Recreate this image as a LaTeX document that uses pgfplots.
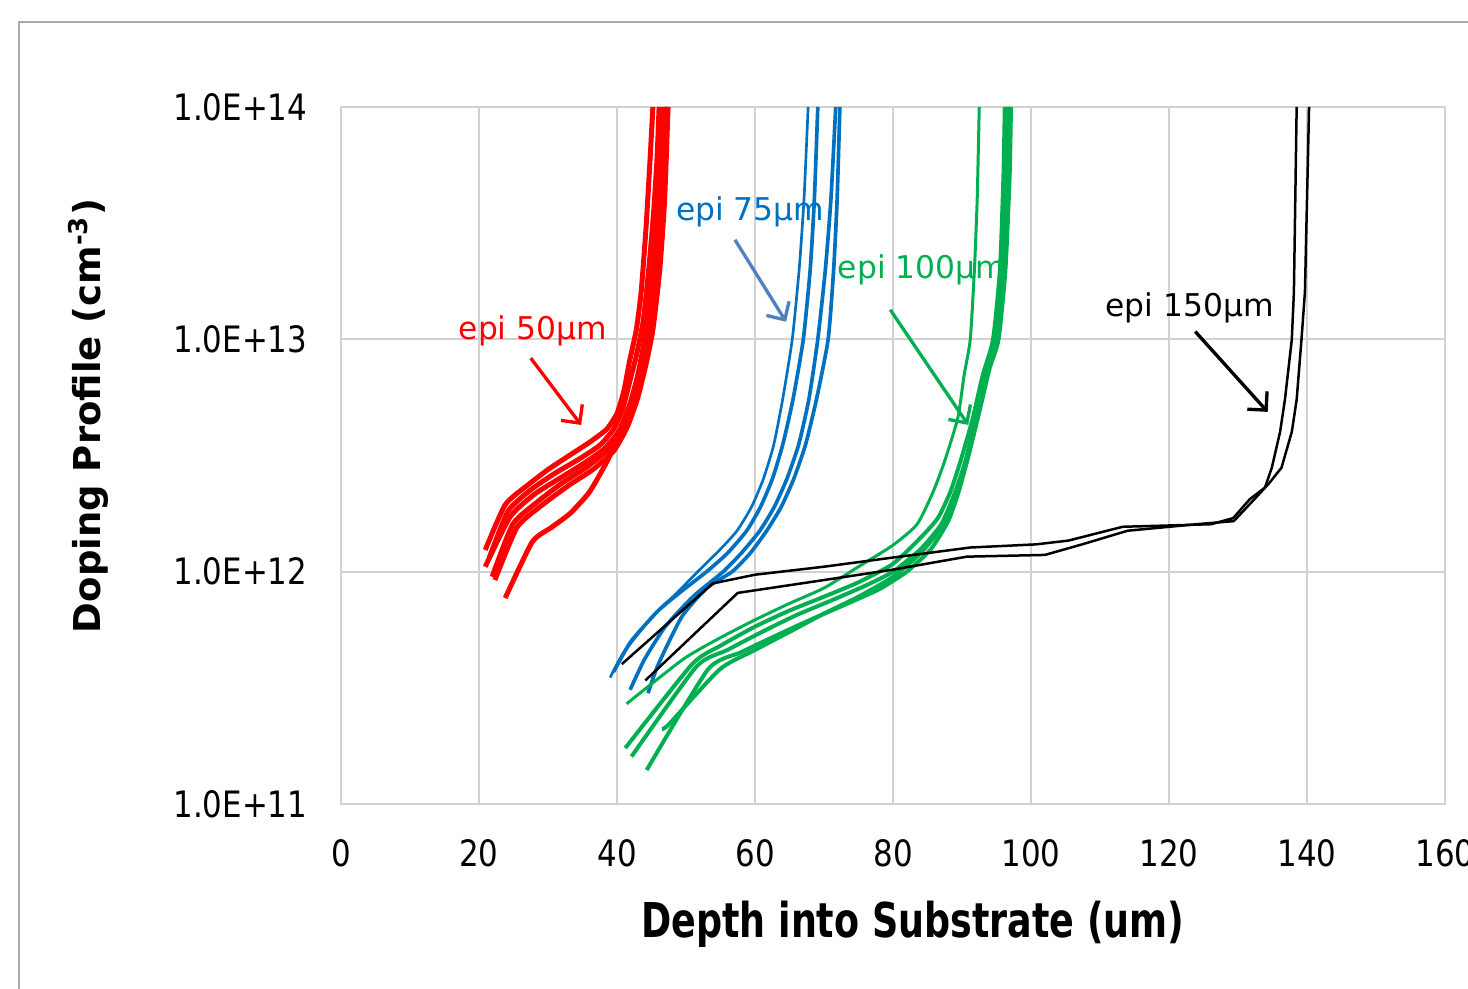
\documentclass[border=0pt]{standalone}
\usepackage{pgfplots}
\pgfplotsset{compat=1.18}
\usepackage{fontspec}
\setmainfont{DejaVu Sans}
\usetikzlibrary{arrows.meta}
\definecolor{epired}{RGB}{255,0,0}
\definecolor{epiblue}{RGB}{0,112,192}
\definecolor{epigreen}{RGB}{0,176,80}
\definecolor{arrowblue}{RGB}{79,129,189}
\definecolor{gridgray}{RGB}{210,210,210}
\definecolor{framegray}{RGB}{170,170,170}
\newcommand{\tl}[1]{\scalebox{0.85}[1]{#1}}

\begin{document}
\begin{tikzpicture}
\useasboundingbox (-102.3pt,-55.2pt) rectangle (338.1pt,241.2pt);
\draw[framegray, line width=0.6pt] (-96.6pt,-80pt) -- (-96.6pt,234.6pt) -- (380pt,234.6pt);
\begin{axis}[
  at={(0pt,0pt)}, anchor=south west,
  scale only axis, width=331.2pt, height=209.1pt,
  xmin=0, xmax=160, ymin=1e11, ymax=1e14,
  ymode=log,
  xtick={0,20,...,160},
  ytick={1e11,1e12,1e13,1e14},
  xticklabels={\tl{0},\tl{20},\tl{40},\tl{60},\tl{80},\tl{100},\tl{120},\tl{140},\tl{160}},
  yticklabels={\tl{1.0E+11},\tl{1.0E+12},\tl{1.0E+13},\tl{1.0E+14}},
  tick label style={font=\fontsize{10.9}{13}\selectfont},
  xticklabel style={yshift=-7pt},
  yticklabel style={xshift=-6.6pt},
  major tick length=0pt, minor tick length=0pt,
  grid=major,
  major grid style={gridgray, line width=0.6pt},
  axis line style={gridgray, line width=0.6pt},
  xlabel={\scalebox{0.76}[1]{\bfseries Depth into Substrate (um)}},
  xlabel style={font=\fontsize{14.4}{16}\selectfont, at={(axis description cs:0.518,-0.172)}, anchor=center},
  ylabel={\bfseries Doping Profile (cm\textsuperscript{-3})},
  ylabel style={font=\fontsize{11.1}{13}\selectfont, at={(axis description cs:-0.229,0.557)}, anchor=center},
  every axis plot/.append style={line join=round, mark=none},
  soft/.style={smooth, tension=0.35},
]
% epi 50um
\addplot[epired, line width=1.5pt, soft] coordinates {(20.9,1.24e12)(23.8,1.94e12)(27,2.35e12)(30,2.75e12)(33,3.15e12)(36,3.6e12)(38.5,4.1e12)(40,4.8e12)(41,6e12)(41.8,8e12)(42.8,1.1e13)(43.5,1.6e13)(44.2,3e13)(44.8,6e13)(45.2,1e14)};
\addplot[epired, line width=1.5pt, soft] coordinates {(21.5,1.15e12)(24.2,1.82e12)(27.5,2.25e12)(31,2.65e12)(34.5,3.05e12)(37.5,3.5e12)(39.5,4.1e12)(40.8,5e12)(41.8,6.5e12)(42.8,8.5e12)(43.8,1.2e13)(44.6,2e13)(45.3,3.5e13)(45.8,6e13)(46.1,1e14)};
\addplot[epired, line width=1.5pt, soft] coordinates {(20.9,1.05e12)(24.5,1.72e12)(28,2.15e12)(31.5,2.5e12)(35,2.9e12)(38,3.35e12)(40.2,4e12)(41.8,5.2e12)(43,7e12)(44,1e13)(45,1.7e13)(45.7,3e13)(46.3,6e13)(46.6,1e14)};
\addplot[epired, line width=1.5pt, soft] coordinates {(21.9,0.95e12)(24.9,1.6e12)(28.5,2.0e12)(32,2.4e12)(35.5,2.8e12)(38.5,3.3e12)(40.8,4e12)(42.5,5.3e12)(43.7,7.2e12)(44.8,1.05e13)(45.7,1.8e13)(46.4,3.5e13)(46.9,6e13)(47.1,1e14)};
\addplot[epired, line width=1.5pt, soft] coordinates {(22.3,0.92e12)(25.5,1.55e12)(29,1.92e12)(33,2.35e12)(36.5,2.75e12)(39.5,3.3e12)(41.5,4.2e12)(43,5.6e12)(44.2,7.8e12)(45.2,1.1e13)(46.2,2e13)(46.9,4e13)(47.4,1e14)};
\addplot[epired, line width=1.5pt, soft] coordinates {(23.8,0.77e12)(27.7,1.34e12)(30.5,1.55e12)(33.2,1.78e12)(36,2.2e12)(38.6,3.0e12)(40.5,4.0e12)(42,5.3e12)(43.3,7.2e12)(44.3,1e13)(45.3,1.7e13)(46.2,3.5e13)(46.8,6e13)(47.1,1e14)};
% epi 75um
\addplot[epiblue, line width=0.8pt, soft] coordinates {(39.0,0.35e12)(41,0.45e12)(45.5,0.66e12)(48.5,0.8e12)(51.7,1.0e12)(55,1.25e12)(57.4,1.5e12)(59.5,1.9e12)(61.2,2.5e12)(62.7,3.5e12)(64,5.5e12)(65.4,1e13)(66.4,2e13)(67.1,4e13)(67.7,1e14)};
\addplot[epiblue, line width=1.1pt, soft] coordinates {(39.5,0.37e12)(42,0.5e12)(46,0.68e12)(49.5,0.83e12)(53.0,1.0e12)(56,1.2e12)(58.8,1.5e12)(60.8,1.9e12)(62.5,2.5e12)(64,3.5e12)(65.5,5.5e12)(67.0,1e13)(68,2e13)(68.6,4e13)(69.1,1e14)};
\addplot[epiblue, line width=1.1pt, soft] coordinates {(41.9,0.31e12)(44,0.42e12)(47,0.58e12)(51,0.78e12)(55.4,1.0e12)(58,1.2e12)(60.7,1.5e12)(62.8,1.9e12)(64.6,2.5e12)(66.3,3.5e12)(67.8,5.5e12)(69.1,1e13)(70.2,2e13)(71,4e13)(71.7,1e14)};
\addplot[epiblue, line width=1.1pt, soft] coordinates {(44.5,0.30e12)(46,0.40e12)(49.4,0.64e12)(53,0.85e12)(56.7,1.0e12)(59.3,1.2e12)(61.7,1.5e12)(63.8,1.9e12)(65.6,2.5e12)(67.3,3.5e12)(68.9,5.5e12)(70.6,1e13)(71.4,2e13)(71.9,4e13)(72.3,1e14)};
% epi 100um
\addplot[epigreen, line width=0.9pt, soft] coordinates {(41.4,0.27e12)(49.6,0.42e12)(55,0.52e12)(60,0.62e12)(65,0.73e12)(70,0.85e12)(75,1.05e12)(80,1.3e12)(83.5,1.6e12)(85.8,2.2e12)(87.5,3.0e12)(89.4,4.6e12)(90.3,7e12)(91.2,1e13)(91.8,2e13)(92.2,4e13)(92.5,1e14)};
\addplot[epigreen, line width=1.2pt, soft] coordinates {(41.2,0.174e12)(50.9,0.40e12)(55,0.48e12)(60,0.58e12)(65,0.68e12)(70,0.78e12)(75,0.9e12)(80,1.08e12)(84,1.4e12)(86.5,1.7e12)(88.3,2.2e12)(89.8,3e12)(91.5,4.5e12)(93,7e12)(94.5,1e13)(95.5,2e13)(96,5e13)(96.2,1e14)};
\addplot[epigreen, line width=1.2pt, soft] coordinates {(42.1,0.16e12)(51.5,0.39e12)(56,0.46e12)(61,0.55e12)(66,0.65e12)(71,0.75e12)(76,0.87e12)(80,1.0e12)(84,1.25e12)(87,1.6e12)(89,2.2e12)(90.5,3e12)(92.2,4.8e12)(93.6,7e12)(95,1e13)(96,2e13)(96.6,5e13)(96.8,1e14)};
\addplot[epigreen, line width=1.2pt, soft] coordinates {(44.3,0.14e12)(53.2,0.38e12)(58,0.45e12)(63,0.53e12)(68,0.62e12)(73,0.72e12)(78,0.84e12)(82,1.0e12)(85.5,1.25e12)(88,1.65e12)(89.5,2.2e12)(91,3.2e12)(92.6,5e12)(94,7.5e12)(95.3,1e13)(96.3,2e13)(96.9,5e13)(97.1,1e14)};
\addplot[epigreen, line width=1.2pt, soft] coordinates {(46.5,0.21e12)(47.5,0.22e12)(54.9,0.38e12)(60,0.46e12)(65,0.55e12)(70,0.66e12)(75,0.78e12)(80,0.95e12)(84,1.2e12)(87,1.55e12)(89,2.1e12)(90.7,3e12)(92,4.5e12)(93.5,7e12)(94.8,1e13)(95.8,2e13)(96.5,5e13)(96.7,1e14)};
% epi 150um
\addplot[black, line width=0.75pt] coordinates {(40.7,0.40e12)(53.9,0.89e12)(60,0.97e12)(70,1.05e12)(80,1.15e12)(91.2,1.27e12)(100.7,1.31e12)(105.4,1.36e12)(113.3,1.56e12)(120,1.58e12)(126.1,1.6e12)(129.3,1.7e12)(131.7,2.05e12)(133.9,2.3e12)(134.9,2.8e12)(136.1,4e12)(136.8,5.5e12)(137.8,1e13)(138.1,1.6e13)(138.5,1e14)};
\addplot[black, line width=0.75pt] coordinates {(44.1,0.34e12)(57.5,0.81e12)(70,0.92e12)(80,1.02e12)(90.7,1.16e12)(102,1.18e12)(107.4,1.31e12)(114,1.5e12)(124,1.6e12)(129.4,1.65e12)(132.7,2.1e12)(134.5,2.4e12)(136.3,2.8e12)(137.8,4e12)(138.5,5.5e12)(139.2,1e13)(139.7,1.6e13)(140.3,1e14)};
% labels and arrows
\node[epired, font=\fontsize{9.4}{11}\selectfont] at (axis cs:27.8,1.09e13) {epi 50μm};
\draw[epired, line width=1pt, -{Straight Barb[length=4pt,width=8pt]}] (axis cs:27.5,8.3e12) -- (axis cs:34.8,4.28e12);
\node[epiblue, font=\fontsize{9.4}{11}\selectfont] at (axis cs:59.3,3.53e13) {epi 75μm};
\draw[arrowblue, line width=1pt, -{Straight Barb[length=4pt,width=8pt]}] (axis cs:57.1,2.68e13) -- (axis cs:64.5,1.19e13);
\node[epigreen, font=\fontsize{9.4}{11}\selectfont] at (axis cs:84.2,1.99e13) {epi 100μm};
\draw[epigreen, line width=1pt, -{Straight Barb[length=4pt,width=8pt]}] (axis cs:79.6,1.34e13) -- (axis cs:90.9,4.28e12);
\node[black, font=\fontsize{9.4}{11}\selectfont] at (axis cs:123.0,1.365e13) {epi 150μm};
\draw[black, line width=1pt, -{Straight Barb[length=4pt,width=8pt]}] (axis cs:123.8,1.08e13) -- (axis cs:134.3,4.87e12);
\end{axis}
\end{tikzpicture}
\end{document}
